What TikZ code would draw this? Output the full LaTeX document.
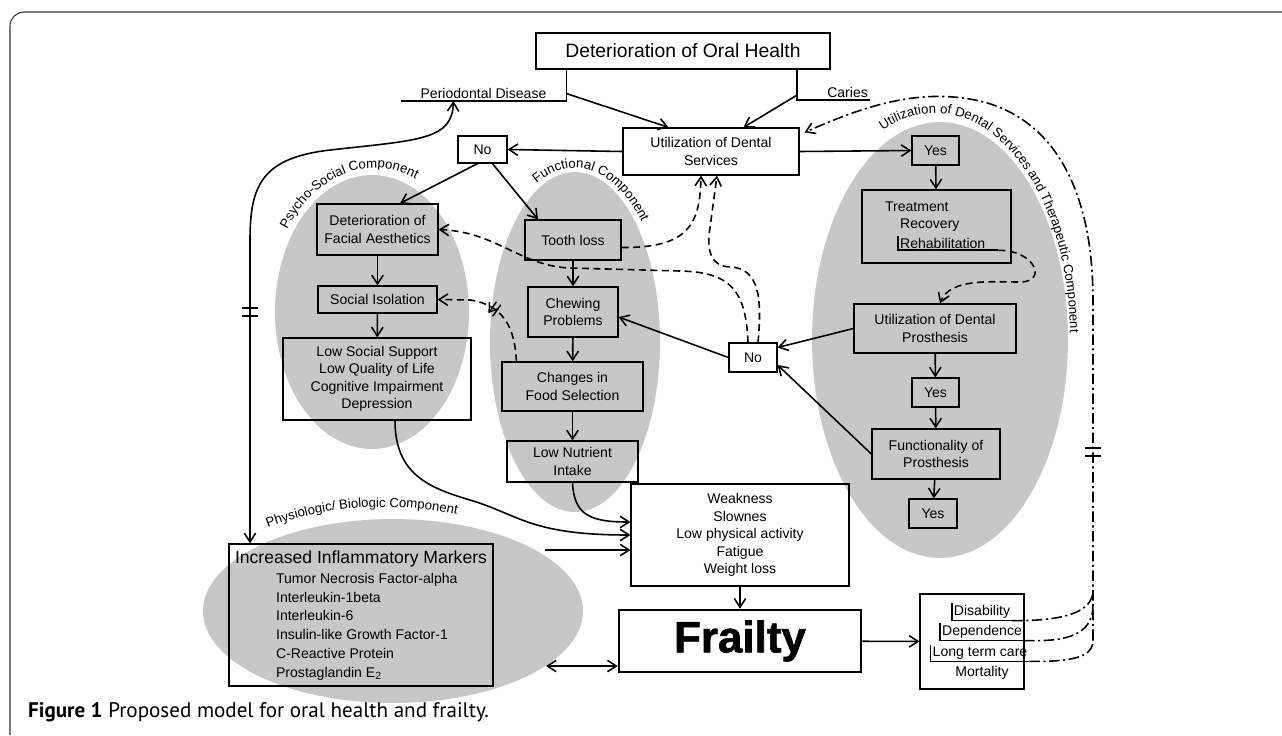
\documentclass[tikz,border=0pt]{standalone}
\usepackage{fontspec}
\setmainfont{Liberation Sans}
\newfontfamily\capfont{PT Sans}
\newfontfamily\heavyfont{Liberation Sans}[BoldFeatures={FakeBold=1.5}]
\usetikzlibrary{arrows.meta}
\usetikzlibrary{decorations.text}
\usetikzlibrary{decorations.markings}
\newcommand{\arcfont}{\fontsize{7.5}{9}\selectfont}

\tikzset{
  box/.style={draw, line width=0.7pt, align=center, inner sep=1pt, font=\fontsize{8}{10}\selectfont},
  lbl/.style={inner sep=1pt, font=\fontsize{8}{10}\selectfont},
  arr/.style={line width=0.9pt, -{Straight Barb[length=5pt,width=6.5pt]}},
  darr/.style={line width=0.9pt, {Straight Barb[length=5pt,width=6.5pt]}-{Straight Barb[length=5pt,width=6.5pt]}},
  dsh/.style={arr, dash pattern=on 4pt off 2.5pt},
  ddot/.style={line width=0.9pt, dash pattern=on 6pt off 2pt on 1.2pt off 2pt},
  blob/.style={fill=black!22},
  brk/.style={postaction={decorate}, decoration={markings, mark=at position #1 with {\draw[solid, line width=0.8pt] (-1.5pt,-4pt) -- (-1.5pt,4pt) (1.5pt,-4pt) -- (1.5pt,4pt);}}},
}

\begin{document}
\begin{tikzpicture}[x=0.02cm, y=-0.02cm]
    \useasboundingbox (0,0) rectangle (1282,735);
    \draw[line width=0.6pt, black!80, rounded corners=8pt] (10,735) -- (10,12) -- (1282,12);

    % component areas
    \fill[blob] (372,312) ellipse [x radius=1.94cm, y radius=2.74cm];
    \fill[blob] (575,342) ellipse [x radius=1.7cm, y radius=3.4cm];
    \fill[blob] (940,340) ellipse [x radius=2.56cm, y radius=4.36cm];
    \fill[blob] (393,611) ellipse [x radius=3.8cm, y radius=1.84cm];

    \path[decorate, decoration={text along path, text align=center, text={|\arcfont|Psycho-Social Component}}]
        (375,310) ++(150:2.14cm and 2.84cm) arc (150:62:2.14cm and 2.84cm);
    \path[decorate, decoration={text along path, text align=center, text={|\arcfont|Functional Component}}]
        (575,340) ++(125:1.84cm and 3.44cm) arc (125:35:1.84cm and 3.44cm);
    \path[decorate, decoration={text along path, text align=center, text={|\arcfont|Utilization of Dental Services and Therapeutic Component}}]
        (935,335) ++(122:2.7cm and 4.44cm) arc (122:-6:2.7cm and 4.44cm);
    \path[decorate, decoration={text along path, text align=center, text={|\arcfont|Physiologic/ Biologic Component}}]
        (385,611) ++(134:3.9cm and 2.08cm) arc (134:62:3.9cm and 2.08cm);

    % top
    \node[box, font=\fontsize{11}{13}\selectfont, minimum width=5.88cm, minimum height=0.72cm] (detoh) at (683,51) {Deterioration of Oral Health};
    \node[lbl, minimum width=3.3cm, anchor=south] (perio) at (483.5,101) {Periodontal Disease};
    \node[lbl, anchor=south east] (caries) at (870,100) {Caries};
    \coordinate (cariesL) at ([xshift=-0.56cm]caries.south west);
    \node[box, minimum width=3.52cm, minimum height=0.94cm] (util) at (711,151.5) {Utilization of Dental\\Services};
    \node[box, minimum width=0.98cm, minimum height=0.54cm] (noA) at (482.5,149.5) {No};
    \node[box, minimum width=0.94cm, minimum height=0.58cm] (yesA) at (935.5,150.5) {Yes};

    % therapeutic column
    \node[box, minimum width=2.98cm, minimum height=1.46cm] (treat) at (936.5,226.5) {};
    \node[lbl, anchor=west] (tr1) at (883,207) {Treatment};
    \node[lbl, anchor=west] (tr2) at (898,225) {Recovery};
    \node[lbl, anchor=west] (tr3) at (898,243) {Rehabilitation};
    \coordinate (rehabE) at ([xshift=0.22cm]tr3.south east);
    \node[box, minimum width=3.24cm, minimum height=0.98cm] (udp) at (935,328.5) {Utilization of Dental\\Prosthesis};
    \node[box, minimum width=0.94cm, minimum height=0.58cm] (yesB) at (935.5,392.5) {Yes};
    \node[box, minimum width=2.56cm, minimum height=1cm] (func) at (936,454) {Functionality of\\Prosthesis};
    \node[box, minimum width=0.96cm, minimum height=0.58cm] (yesC) at (933,513.5) {Yes};
    \node[box, minimum width=0.96cm, minimum height=0.58cm] (noB) at (753,357.5) {No};

    % psycho-social column
    \node[box, minimum width=2.42cm, minimum height=1.02cm] (fa) at (377.5,229.5) {Deterioration of\\Facial Aesthetics};
    \node[box, minimum width=2.38cm, minimum height=0.54cm] (si) at (377.5,299.5) {Social Isolation};
    \node[box, minimum width=3.76cm, minimum height=1.64cm] (lss) at (377,379) {Low Social Support\\Low Quality of Life\\Cognitive Impairment\\Depression};

    % functional column
    \node[box, minimum width=1.92cm, minimum height=0.8cm] (tl) at (573,240) {Tooth loss};
    \node[box, minimum width=1.8cm, minimum height=1cm] (cp) at (573,312) {Chewing\\Problems};
    \node[box, minimum width=2.82cm, minimum height=0.98cm] (cfs) at (572.5,386.5) {Changes in\\Food Selection};
    \node[box, minimum width=2.62cm, minimum height=0.82cm] (lni) at (572.5,461.5) {Low Nutrient\\Intake};

    % bottom
    \node[box, minimum width=4.36cm, minimum height=2.04cm] (sym) at (740,535) {Weakness\\Slownes\\Low physical activity\\Fatigue\\Weight loss};
    \node[box, line width=1.5pt, minimum width=4.84cm, minimum height=1.24cm, font=\heavyfont\bfseries\fontsize{25}{28}\selectfont] (frailty) at (740,641) {Frailty};
    \node[box, minimum width=2.08cm, minimum height=1.9cm] (out) at (972,641.5) {};
    \node[lbl] (dis) at (982,612) {Disability};
    \node[lbl] (dep) at (982,632) {Dependence};
    \node[lbl] (ltc) at (980,653) {Long term care};
    \node[lbl] (mort) at (982,673) {Mortality};
    \node[box, minimum width=5.28cm, minimum height=2.84cm] (infl) at (361,615) {};
    \node[lbl, font=\fontsize{10}{12}\selectfont] (inflt) at (361,559) {Increased Inflammatory Markers};
    \node[lbl, align=left, anchor=north west, font=\fontsize{8}{10.7}\selectfont] (infll) at (274,571) {Tumor Necrosis Factor-alpha\\Interleukin-1beta\\Interleukin-6\\Insulin-like Growth Factor-1\\C-Reactive Protein\\Prostaglandin E\textsubscript{2}};

    \node[anchor=west, font=\capfont\fontsize{12}{14}\selectfont] (cap) at (22,712) {\textbf{Figure 1} Proposed model for oral health and frailty.};

    % brackets
    \draw[line width=0.9pt] (perio.south west) -| (detoh.south -| perio.south east);
    \draw[line width=0.9pt] (caries.south east) -| (cariesL |- detoh.south);
    \draw[line width=0.9pt] (tr3.north west) |- (rehabE);
    \draw[line width=0.9pt] (dis.north west) |- (dis.south east);
    \draw[line width=0.9pt] (dep.north west) |- (dep.south east);
    \draw[line width=0.9pt] (ltc.north west) |- (ltc.south east);

    % arrows
    \draw[arr] ([yshift=0.15cm]perio.south east) -- ([xshift=-0.85cm]util.north);
    \draw[arr] ([yshift=0.1cm]cariesL) -- ([xshift=0.65cm]util.north);
    \draw[arr] (util.west) -- (noA.east);
    \draw[arr] (util.east) -- (yesA.west);
    \draw[arr] ([xshift=-0.1cm]noA.south) -- ([xshift=0.45cm]fa.north);
    \draw[arr] ([xshift=0.2cm]noA.south) -- ([xshift=-0.7cm]tl.north);
    \draw[arr] (fa) -- (si);
    \draw[arr] (si) -- (lss);
    \draw[arr] (tl) -- (cp);
    \draw[arr] (cp) -- (cfs);
    \draw[arr] (cfs) -- (lni);
    \draw[arr] (yesA) -- (treat);
    \draw[arr] (udp) -- (yesB);
    \draw[arr] (yesB) -- (func);
    \draw[arr] (func) -- (yesC);
    \draw[arr] (udp.west) -- ([yshift=0.2cm]noB.east);
    \draw[arr] (func.west) -- ([yshift=-0.15cm]noB.east);
    \draw[arr] (noB.west) -- ([yshift=-0.1cm]cp.east);
    \draw[arr] (sym) -- (frailty);
    \draw[arr] (frailty) -- (out);

    % dashed
    \draw[dsh] ([yshift=-0.15cm]tl.east) .. controls (688,248) and (700,225) .. ([xshift=-0.2cm]util.south);
    \draw[dsh] ([xshift=0.1cm]noB.north) .. controls (762,300) and (760,268) .. (730,267) .. controls (710,266) and (708,250) .. (709,235) -- ([xshift=0.12cm]util.south);
    \draw[dsh] ([xshift=-0.1cm]noB.north) .. controls (746,290) and (730,272) .. (680,271) -- (570,268) .. controls (520,266) and (497,232) .. (fa.east);
    \draw[dsh, brk=0.5] ([xshift=0.3cm]cfs.north west) .. controls (515,330) and (505,305) .. (470,300) -- (si.east);
    \draw[dsh] (rehabE) .. controls (1035,250) and (1048,282) .. (1020,282) .. controls (990,282) and (950,278) .. ([xshift=0.1cm]udp.north);

    % physiologic links
    \coordinate (lbend) at (250,240);
    \draw[darr] ([xshift=-0.6cm]perio.south) .. controls (452,140) and (420,140) .. (330,150) .. controls (262,158) and (250,185) .. (lbend) -- (lbend |- infl.north);
    \draw[line width=0.8pt] (242,308) -- (258,308) (242,316) -- (258,316);
    \draw[arr] (lni.south) .. controls (574,515) and (590,522) .. ([yshift=0.26cm]sym.west);
    \draw[arr] ([xshift=0.36cm]lss.south) .. controls (395,475) and (430,488) .. (470,500) .. controls (520,515) and (530,535) .. (sym.west);
    \coordinate (physR) at (545,550);
    \draw[arr] (physR) -- (physR -| sym.west);
    \coordinate (physE) at (546,666);
    \draw[darr] (physE) -- (physE -| frailty.west);

    % dash-dot return
    \coordinate (ddB) at (1093,640);
    \coordinate (ddT) at (1093,300);
    \draw[ddot, -{Straight Barb[length=5pt,width=6.5pt]}] (ddB) -- (ddT) .. controls (1093,185) and (1050,115) .. (975,100) .. controls (915,88) and (860,108) .. ([shift={(0.1cm,-0.1cm)}]util.north east);
    \draw[line width=0.8pt] (1085,448) -- (1101,448) (1085,456) -- (1101,456);
    \draw[ddot] (dis.south east) -- ++(8,0) .. controls (1065,620) and (1093,612) .. (1093,590);
    \draw[ddot] (dep.south east) -- ++(10,0) .. controls (1075,641) and (1093,630) .. (1093,605);
    \draw[ddot] (ltc.south east) -- ++(10,0) .. controls (1085,661) and (1093,652) .. (ddB);

\end{tikzpicture}
\end{document}
